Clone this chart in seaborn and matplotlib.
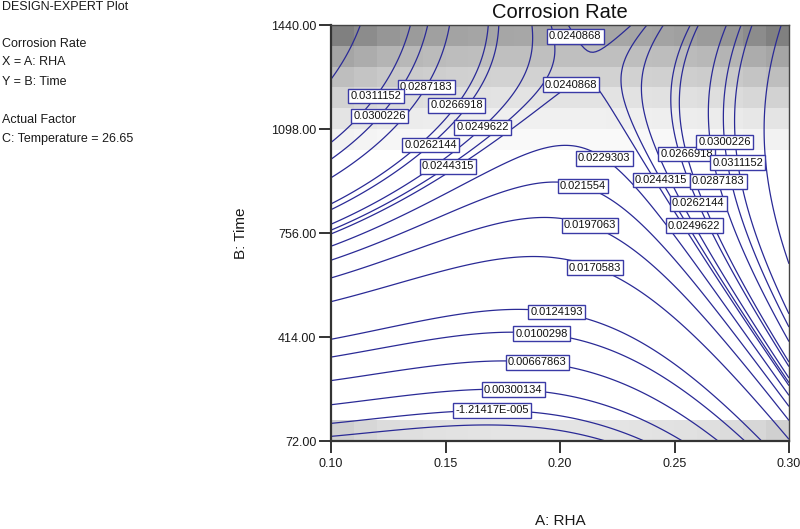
import numpy as np
import matplotlib
matplotlib.use("Agg")
import matplotlib.pyplot as plt
import seaborn as sns

# fitted response surface for Corrosion Rate (coded A = RHA, B = Time, C fixed at 26.65)
# terms: 1, A, B, A^2, B^2, AB, A^3, B^3, A^2B, AB^2
model_terms = [0.018812, 0.00188095, 0.0132811, 0.0112704, -0.00860601,
               -0.00520988, 0.00403043, 0.000747034, 0.000538426, -0.00121484]
rha_range = [0.10, 0.30]
time_range = [72.0, 1440.0]

# labelled contour levels, as printed on the plot
levels = [-1.21417e-5, 0.00300134, 0.00667863, 0.0100298, 0.0124193, 0.0170583,
          0.0197063, 0.021554, 0.0229303, 0.0240868, 0.0244315, 0.0249622,
          0.0262144, 0.0266918, 0.0287183, 0.0300226, 0.0311152]
level_text = ["-1.21417E-005", "0.00300134", "0.00667863", "0.0100298", "0.0124193",
              "0.0170583", "0.0197063", "0.021554", "0.0229303", "0.0240868",
              "0.0244315", "0.0249622", "0.0262144", "0.0266918", "0.0287183",
              "0.0300226", "0.0311152"]
extra_levels = [-0.0022, 0.0345]

# x ticks and y ticks
rha_ticks = [0.10, 0.15, 0.20, 0.25, 0.30]
time_ticks = [72.00, 414.00, 756.00, 1098.00, 1440.00]

# grey shading of the standard-error cells (0-255), top rows then the bottom row
se_top_rows = [
    [128, 140, 150, 155, 160, 163, 165, 166, 167, 167, 167, 167, 166, 165, 163, 160, 155, 150, 140, 128],
    [165, 172, 180, 184, 187, 189, 190, 191, 191, 191, 191, 191, 191, 190, 189, 187, 184, 180, 172, 165],
    [190, 196, 201, 204, 206, 208, 209, 210, 210, 210, 210, 210, 210, 209, 208, 206, 204, 201, 196, 190],
    [210, 215, 219, 222, 224, 225, 226, 227, 227, 227, 227, 227, 227, 226, 225, 224, 222, 219, 215, 210],
    [228, 231, 234, 236, 237, 238, 239, 239, 240, 240, 240, 240, 239, 239, 238, 237, 236, 234, 231, 228],
    [242, 244, 246, 247, 248, 248, 249, 249, 249, 249, 249, 249, 249, 249, 248, 248, 247, 246, 244, 242],
]
se_bottom_row = [208, 215, 220, 223, 225, 226, 227, 228, 228, 228, 228, 228, 228, 227, 226, 225, 223, 220, 215, 208]

# where the value boxes sit (RHA, Time) for each level
label_spots = {
    -1.21417e-5: [(0.1702, 185)],
    0.00300134: [(0.1796, 250)],
    0.00667863: [(0.1901, 338)],
    0.0100298: [(0.1920, 434)],
    0.0124193: [(0.1986, 503)],
    0.0170583: [(0.2153, 643)],
    0.0197063: [(0.2131, 781)],
    0.021554: [(0.2099, 908)],
    0.0229303: [(0.2179, 985)],
    0.0240868: [(0.2095, 1416), (0.2095, 1190)],
    0.0244315: [(0.1498, 990), (0.2422, 921)],
    0.0249622: [(0.1636, 1124), (0.2579, 777)],
    0.0262144: [(0.1425, 1054), (0.2604, 854)],
    0.0266918: [(0.1520, 1191), (0.2531, 1012)],
    0.0287183: [(0.1396, 1245), (0.2699, 927)],
    0.0300226: [(0.1236, 1125), (0.2728, 1056)],
    0.0311152: [(0.1221, 1193), (0.2800, 990)],
}

line_color = "#2a2a96"
box_color = "#3a3aa6"

sns.set_theme(style="white")
plt.rcParams["font.family"] = ["Liberation Sans", "DejaVu Sans"]

fig = plt.figure(figsize=(8, 5.29), dpi=100)
ax = fig.add_axes([331 / 800, 1 - 441 / 529, 458 / 800, 416 / 529])

# standard-error shading
n_rows = 20
shade = np.full((n_rows, len(se_bottom_row)), 255.0)
for i, row in enumerate(se_top_rows):
    shade[n_rows - 1 - i] = row
shade[0] = se_bottom_row
x_edges = np.linspace(rha_range[0], rha_range[1], len(se_bottom_row) + 1)
t_edges = np.linspace(time_range[0], time_range[1], n_rows + 1)
ax.pcolormesh(x_edges, t_edges, shade / 255.0, cmap="gray", vmin=0, vmax=1,
              shading="flat", zorder=0)

# response surface on a grid
xg = np.linspace(rha_range[0], rha_range[1], 160)
tg = np.linspace(time_range[0], time_range[1], 160)
XX, TT = np.meshgrid(xg, tg)
a = (XX - 0.2) / 0.1
b = (TT - 756.0) / 684.0
basis = [np.ones_like(a), a, b, a * a, b * b, a * b, a ** 3, b ** 3, a * a * b, a * b * b]
ZZ = sum(c * t for c, t in zip(model_terms, basis))

ax.set_xlim(rha_range)
ax.set_ylim(time_range)

ax.contour(XX, TT, ZZ, levels=extra_levels, colors=line_color, linewidths=0.9,
           linestyles="solid", zorder=2)

for lvl, txt in zip(levels, level_text):
    cs = ax.contour(XX, TT, ZZ, levels=[lvl], colors=line_color, linewidths=0.9,
                    linestyles="solid", zorder=2)
    labels = cs.clabel(manual=label_spots[lvl], inline=False, fmt=lambda v, s=txt: s,
                       fontsize=8, colors="#111111")
    for t in labels:
        t.set_rotation(0)
        t.set_zorder(6)
        t.set_bbox(dict(boxstyle="square,pad=0.2", fc="white", ec=box_color, lw=1.0))

# frame and ticks
for side in ["left", "bottom"]:
    ax.spines[side].set_linewidth(1.6)
    ax.spines[side].set_color("#333333")
for side in ["top", "right"]:
    ax.spines[side].set_linewidth(1.0)
    ax.spines[side].set_color("#444444")
ax.set_xticks(rha_ticks)
ax.set_xticklabels([f"{v:.2f}" for v in rha_ticks])
ax.set_yticks(time_ticks)
ax.set_yticklabels([f"{v:.2f}" for v in time_ticks])
ax.tick_params(axis="both", direction="out", length=8.5, width=1.4, color="#333333",
               labelsize=9, labelcolor="#1a1a1a")
ax.tick_params(axis="x", pad=4, bottom=True)
ax.tick_params(axis="y", pad=2, left=True)
ax.grid(False)

ax.set_xlabel("A: RHA", fontsize=11, color="#1a1a1a")
ax.set_ylabel("B: Time", fontsize=11, color="#1a1a1a")
ax.xaxis.set_label_coords(0.5, (441 - 521) / 416)
ax.xaxis.label.set_va("center")
ax.yaxis.set_label_coords((241 - 331) / 458, 0.5)
ax.yaxis.label.set_va("center")

fig.text(560 / 800, 1 - 12 / 529, "Corrosion Rate", fontsize=14.5, ha="center",
         va="center", color="#111111")

info = [("DESIGN-EXPERT Plot", 7), ("Corrosion Rate", 44), ("X = A: RHA", 62),
        ("Y = B: Time", 82), ("Actual Factor", 120), ("C: Temperature = 26.65", 139)]
for txt, ypx in info:
    fig.text(2 / 800, 1 - ypx / 529, txt, fontsize=9, ha="left", va="center",
             color="#1a1a1a")

fig.savefig("out.png", dpi=100)
